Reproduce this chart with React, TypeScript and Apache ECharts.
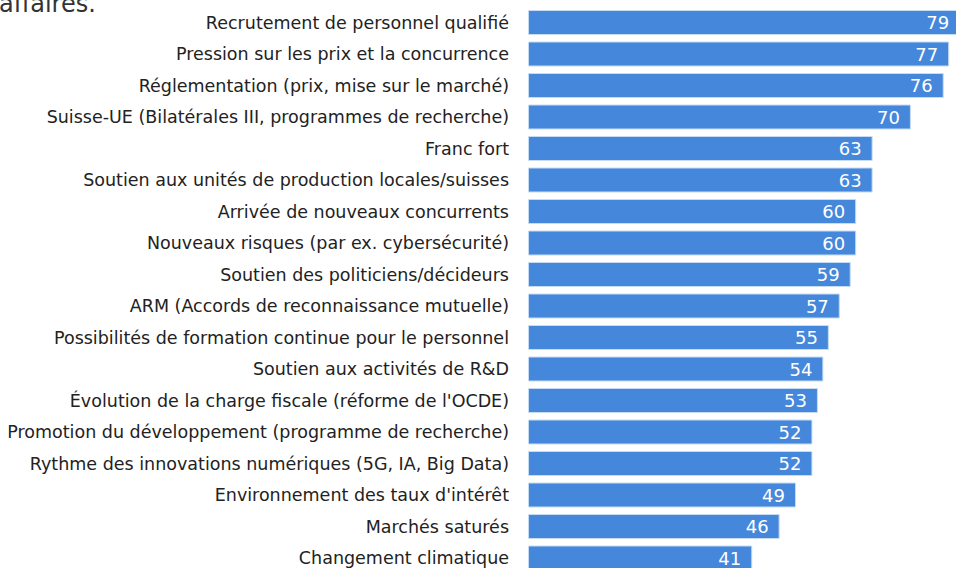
import React, { useEffect, useRef } from "react";
import * as echarts from "echarts";

const categories = [
  "Recrutement de personnel qualifié",
  "Pression sur les prix et la concurrence",
  "Réglementation (prix, mise sur le marché)",
  "Suisse-UE (Bilatérales III, programmes de recherche)",
  "Franc fort",
  "Soutien aux unités de production locales/suisses",
  "Arrivée de nouveaux concurrents",
  "Nouveaux risques (par ex. cybersécurité)",
  "Soutien des politiciens/décideurs",
  "ARM (Accords de reconnaissance mutuelle)",
  "Possibilités de formation continue pour le personnel",
  "Soutien aux activités de R&D",
  "Évolution de la charge fiscale (réforme de l'OCDE)",
  "Promotion du développement (programme de recherche)",
  "Rythme des innovations numériques (5G, IA, Big Data)",
  "Environnement des taux d'intérêt",
  "Marchés saturés",
  "Changement climatique",
];
const values = [79, 77, 76, 70, 63, 63, 60, 60, 59, 57, 55, 54, 53, 52, 52, 49, 46, 41];
const titleText = "affaires.";

export default function App() {
  const ref = useRef<HTMLDivElement>(null);
  useEffect(() => {
    const chart = echarts.init(ref.current!, null, { renderer: "svg" });
    chart.setOption({
      animation: false,
      graphic: [
        {
          type: "text",
          left: -1,
          top: -8,
          style: { text: titleText, fontSize: 24, fill: "#333", fontFamily: "DejaVu Sans" },
        },
      ],
      grid: {
        left: 528,
        top: 6.75,
        width: 547,
        height: 567,
        containLabel: false,
        outerBoundsMode: "none",
      },
      xAxis: { type: "value", min: 0, max: 100, show: false },
      yAxis: {
        type: "category",
        data: categories,
        inverse: true,
        axisLine: { show: false },
        axisTick: { show: false },
        axisLabel: { margin: 19, fontSize: 17.5, color: "#222", fontFamily: "DejaVu Sans" },
      },
      series: [
        {
          type: "bar",
          data: values,
          barWidth: 25,
          itemStyle: { color: "#4587DB", borderColor: "#c6dcf5", borderWidth: 1 },
          label: {
            show: true,
            position: "insideRight",
            distance: 11,
            color: "#fff",
            fontSize: 18,
            fontFamily: "DejaVu Sans",
          },
        },
      ],
    });
    return () => chart.dispose();
  }, []);
  return (
    <div
      ref={ref}
      style={{ position: "fixed", left: 0, top: 0, width: 956, height: 568, background: "#fff" }}
    />
  );
}
